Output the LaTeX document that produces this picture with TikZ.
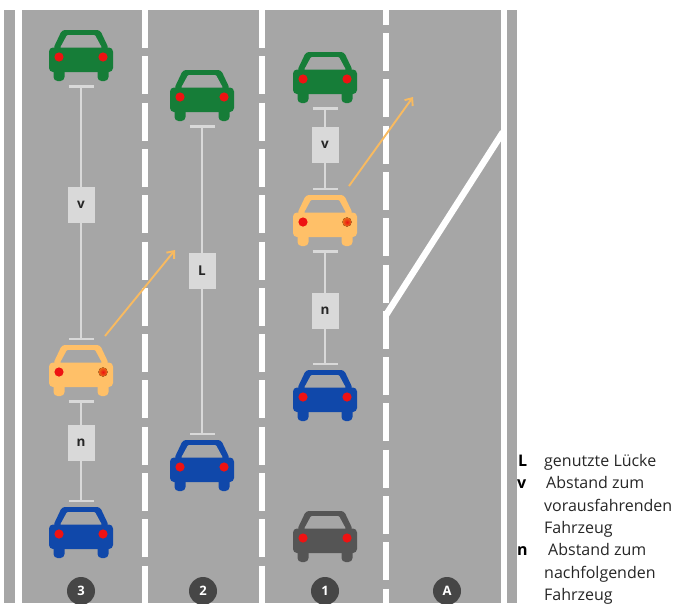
\documentclass[tikz,border=0pt]{standalone}
\usepackage{fontspec}
\setmainfont{Open Sans}
\usetikzlibrary{arrows.meta}

\definecolor{road}{RGB}{166,166,166}
\definecolor{marker}{RGB}{217,217,217}
\definecolor{cargreen}{RGB}{22,125,56}
\definecolor{carblue}{RGB}{16,72,170}
\definecolor{carorange}{RGB}{255,192,104}
\definecolor{cargray}{RGB}{85,85,85}
\definecolor{lampred}{RGB}{238,18,18}
\definecolor{lamporange}{RGB}{232,112,24}
\definecolor{arroworange}{RGB}{248,186,96}
\definecolor{badgegray}{RGB}{70,70,70}

\tikzset{
  % car seen from behind, origin at the middle of the roof top
  car/.pic={
    \fill[carbody, rounded corners=3pt] (-19,0) -- (19,0) -- (28,19) -- (-28,19) -- cycle;
    \fill[road, rounded corners=1pt] (-14,5) -- (14,5) -- (21,18) -- (-21,18) -- cycle;
    \fill[carbody, rounded corners=4pt] (-32,17.5) rectangle (32,42);
    \fill[carbody, rounded corners=4pt] (-27.5,36) rectangle (-16.5,51);
    \fill[carbody, rounded corners=4pt] (16.5,36) rectangle (27.5,51);
    \fill[lampred] (-22,27) circle (4.6pt);
    \fill[rightlamp] (22,27) circle (4.6pt);
    \coordinate (-front) at (0,-5);
    \coordinate (-rear) at (0,55);
    \coordinate (-nose) at (24,-9);
  },
  greencar/.style={carbody/.style={fill=cargreen}, rightlamp/.style={fill=lampred}},
  bluecar/.style={carbody/.style={fill=carblue}, rightlamp/.style={fill=lampred}},
  graycar/.style={carbody/.style={fill=cargray}, rightlamp/.style={fill=lampred}},
  orangecar/.style={carbody/.style={fill=carorange}, rightlamp/.style={inner color=lampred, outer color=lamporange}},
  gapline/.style={draw=marker, line width=2pt,
    {Bar[width=25pt,line width=2.5pt]}-{Bar[width=25pt,line width=2.5pt]}},
  gapbox/.style={fill=marker, minimum width=27pt, minimum height=36pt, inner sep=0pt,
    font=\fontsize{13.5}{14}\selectfont\bfseries, text=black!85},
  lanechange/.style={draw=arroworange, line width=1.9pt,
    -{Straight Barb[length=6pt,width=10pt,line width=1.9pt]}},
  badge/.style={circle, fill=badgegray, minimum size=28pt, inner sep=0pt,
    font=\fontsize{13}{14}\selectfont\bfseries, text=white},
  solidmark/.style={draw=white, line width=6.5pt},
  dashmark/.style={draw=white, line width=6.5pt, dash pattern=on 38pt off 8.3pt},
  legkey/.style={anchor=base west, inner sep=0pt, font=\fontsize{16}{18}\selectfont\bfseries},
  legtext/.style={anchor=base west, inner sep=0pt, font=\fontsize{16}{18}\selectfont, text=black!85},
}

\begin{document}
\begin{tikzpicture}[x=1pt, y=-1pt]
  \useasboundingbox (0,0) rectangle (675,603);

  % carriageway
  \fill[road] (3.5,10) rectangle (517,603);
  \draw[solidmark] (18.5,10) -- (18.5,603);
  \draw[dashmark] (145,10) -- (145,603);
  \draw[dashmark] (262,10) -- (262,603);
  \draw[dashmark, dash phase=23.3pt] (386,10) -- (386,603);
  \draw[solidmark] (504,10) -- (504,603);
  % slip road edge
  \draw[solidmark] (386,315) -- (503,132);

  % lane 3
  \pic[greencar] (g3) at (81,30) {car};
  \pic[orangecar] (o3) at (81,345) {car};
  \pic[bluecar] (u3) at (81,507) {car};
  % lane 2
  \pic[greencar] (g2) at (202,70) {car};
  \pic[bluecar] (u2) at (202,440) {car};
  % lane 1
  \pic[greencar] (g1) at (325,52) {car};
  \pic[orangecar] (o1) at (325,195) {car};
  \pic[bluecar] (u1) at (325,370) {car};
  \pic[graycar] (d1) at (325,511) {car};

  % gaps
  \draw[gapline] (g3-rear) -- node[gapbox, pos=0.47] (v3) {v} (o3-front);
  \draw[gapline] (o3-rear) -- node[gapbox, pos=0.42] (n3) {n} (u3-front);
  \draw[gapline] (g2-rear) -- node[gapbox, pos=0.47] (l2) {L} (u2-front);
  \draw[gapline] (g1-rear) -- node[gapbox, pos=0.46] (v1) {v} (o1-front);
  \draw[gapline] (o1-rear) -- node[gapbox, pos=0.53] (n1) {n} (u1-front);

  % lane changes
  \coordinate (t3) at (175,250);
  \coordinate (t1) at (413,97);
  \draw[lanechange] (o3-nose) -- (t3);
  \draw[lanechange] (o1-nose) -- (t1);

  % lane numbers
  \node[badge] (b3) at (81,591) {3};
  \node[badge] (b2) at (203,591) {2};
  \node[badge] (b1) at (325,591) {1};
  \node[badge] (bA) at (447,591) {A};

  % legend
  \node[legkey] (kL) at (518,466) {L};
  \node[legtext] (tL) at (544,466) {genutzte Lücke};
  \node[legkey] (kv) at (517,488.5) {v};
  \node[legtext] (tv1) at (546,488.5) {Abstand zum};
  \node[legtext] (tv2) at (544,511) {vorausfahrenden};
  \node[legtext] (tv3) at (544,533) {Fahrzeug};
  \node[legkey] (kn) at (517,555.5) {n};
  \node[legtext] (tn1) at (548,555.5) {Abstand zum};
  \node[legtext] (tn2) at (544,578) {nachfolgenden};
  \node[legtext] (tn3) at (544,600) {Fahrzeug};
\end{tikzpicture}
\end{document}
